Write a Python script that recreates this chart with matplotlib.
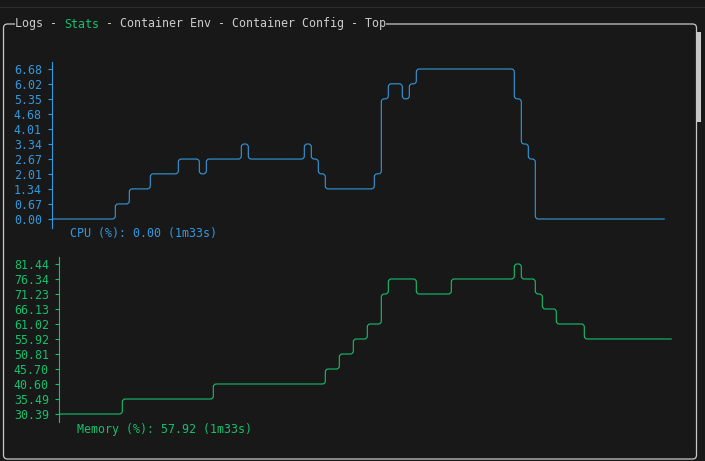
import numpy as np
import matplotlib
matplotlib.use("Agg")
import matplotlib.pyplot as plt
from matplotlib.path import Path
from matplotlib.patches import PathPatch, FancyBboxPatch

# values per terminal column (quantised to the chart rows)
cpu_vals = ([0.00] * 9 + [0.67] * 2 + [1.34] * 3 + [2.01] * 4 + [2.67] * 3 + [2.01]
            + [2.67] * 5 + [3.34] + [2.67] * 8 + [3.34] + [2.67] + [2.01] + [1.34] * 7
            + [2.01] + [5.35] + [6.02] * 2 + [5.35] + [6.02] + [6.68] * 14 + [5.35]
            + [3.34] + [2.67] + [0.00] * 19)
mem_vals = ([30.39] * 9 + [35.49] * 13 + [40.60] * 16 + [45.70] * 2 + [50.81] * 2
            + [55.92] * 2 + [61.02] * 2 + [71.23] + [76.34] * 4 + [71.23] * 5
            + [76.34] * 9 + [81.44] + [76.34] * 2 + [71.23] + [66.13] * 2
            + [61.02] * 4 + [55.92] * 13)

cpu_ticks = ["0.00", "0.67", "1.34", "2.01", "2.67", "3.34", "4.01", "4.68", "5.35", "6.02", "6.68"]
mem_ticks = ["30.39", "35.49", "40.60", "45.70", "50.81", "55.92", "61.02", "66.13", "71.23", "76.34", "81.44"]

cpu_label = "CPU (%): 0.00 (1m33s)"
mem_label = "Memory (%): 57.92 (1m33s)"
tabs = ["Logs", "Stats", "Container Env", "Container Config", "Top"]
active_tab = "Stats"

BG = "#181818"
FG = "#cccccc"
BLUE = "#3399dd"
GREEN = "#14c06e"
MONO = "DejaVu Sans Mono"
FS = 8.4
CW = 7  # terminal cell width in px

W, H = 705, 461
fig = plt.figure(figsize=(W / 100, H / 100), dpi=100, facecolor=BG)


def px_axes(left, top, right, bottom):
    return fig.add_axes([left / W, 1 - bottom / H, (right - left) / W, (bottom - top) / H])


def rounded_step(vals, rx, ry):
    # steps-post polyline with small rounded corners like the box drawing chars
    xs = np.arange(len(vals))
    pts = [(0.0, vals[0])]
    for i in range(1, len(vals)):
        if vals[i] != vals[i - 1]:
            pts.append((xs[i], vals[i - 1]))
            pts.append((xs[i], vals[i]))
    pts.append((len(vals) - 0.5, vals[-1]))
    verts = [pts[0]]
    codes = [Path.MOVETO]
    for k in range(1, len(pts) - 1):
        px, py = pts[k]
        ax_, ay_ = pts[k - 1]
        bx, by = pts[k + 1]
        da = (np.sign(px - ax_), np.sign(py - ay_))
        db = (np.sign(bx - px), np.sign(by - py))
        verts.append((px - da[0] * rx, py - da[1] * ry))
        verts.append((px, py))
        verts.append((px + db[0] * rx, py + db[1] * ry))
        codes += [Path.LINETO, Path.CURVE3, Path.CURVE3]
    verts.append(pts[-1])
    codes.append(Path.LINETO)
    return Path(verts, codes)


def chart(ax, vals, ticks, color, ylo, yhi, px_per_unit, width_px):
    ax.set_facecolor("none")
    ax.set_xlim(0, width_px / CW)
    ax.set_ylim(ylo, yhi)
    tick_vals = [float(t) for t in ticks]
    path = rounded_step(vals, 3 / CW, 3 / px_per_unit)
    ax.add_patch(PathPatch(path, fill=False, edgecolor=color, lw=0.8))
    ax.set_yticks(tick_vals)
    ax.set_yticklabels(ticks, family=MONO, fontsize=FS, color=color)
    ax.set_xticks([])
    ax.tick_params(axis="y", direction="out", length=3, width=0.8, color=color, pad=4.5)
    for s in ["top", "right", "bottom"]:
        ax.spines[s].set_visible(False)
    ax.spines["left"].set_color(color)
    ax.spines["left"].set_linewidth(0.8)


# frame, title tabs and scrollbar, drawn in pixel coords
bg = fig.add_axes([0, 0, 1, 1])
bg.set_xlim(0, W)
bg.set_ylim(H, 0)
bg.axis("off")
bg.axhline(7, color="#2c2c2c", lw=0.8)
bg.add_patch(FancyBboxPatch((3.5, 24), 693, 435, boxstyle="round,pad=0,rounding_size=4",
                            fill=False, edgecolor="#c8c8c8", lw=0.9))
bg.add_patch(plt.Rectangle((697, 32), 3.5, 90, color="#c8c8c8", lw=0))

# tab titles sit on the top border: text before the active tab, the tab, text after
k = tabs.index(active_tab)
before = " - ".join(tabs[:k]) + " - "
after = " - " + " - ".join(tabs[k + 1:])
pieces = [(before, FG), (active_tab, GREEN), (after, FG)]
x = 15
for txt, col in pieces:
    bg.text(x, 27.5, txt, family=MONO, fontsize=FS, va="baseline", ha="left", color=col,
            bbox=dict(facecolor=BG, edgecolor="none", pad=0.3))
    x += len(txt) * CW

# CPU chart: rows 6.68 at y=69 .. 0.00 at y=219
ax1 = px_axes(52.3, 62, 700, 228)
chart(ax1, cpu_vals, cpu_ticks, BLUE, -9 / 150 * 6.68, 6.68 + 7 / 150 * 6.68,
      150 / 6.68, 700 - 52.3)
bg.text(70, 233, cpu_label, family=MONO, fontsize=FS, color=BLUE, va="center", ha="left")

# Memory chart: rows 81.44 at y=264 .. 30.39 at y=414
span = 81.44 - 30.39
ax2 = px_axes(59.3, 257, 700, 422)
chart(ax2, mem_vals, mem_ticks, GREEN, 30.39 - 8 / 150 * span, 81.44 + 7 / 150 * span,
      150 / span, 700 - 59.3)
bg.text(77, 429, mem_label, family=MONO, fontsize=FS, color=GREEN, va="center", ha="left")

fig.savefig("out.png", dpi=100, facecolor=BG)
